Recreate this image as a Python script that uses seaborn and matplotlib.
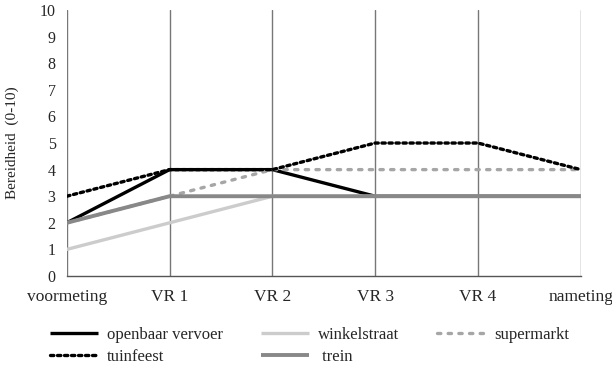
import matplotlib
matplotlib.use("Agg")
import matplotlib.pyplot as plt
import seaborn as sns
import pandas as pd

categories = ["voormeting", "VR 1", "VR 2", "VR 3", "VR 4", "nameting"]
openbaar_vervoer = [2, 4, 4, 3, 3, 3]
winkelstraat = [1, 2, 3, 3, 3, 3]
supermarkt = [2, 3, 4, 4, 4, 4]
tuinfeest = [3, 4, 4, 5, 5, 4]
trein = [2, 3, 3, 3, 3, 3]
y_ticks = list(range(0, 11))

sns.set_theme(style="white")
plt.rcParams["font.family"] = ["Liberation Serif", "DejaVu Serif"]

fig = plt.figure(figsize=(6.12, 3.72), dpi=100)
ax = fig.add_axes([0.109, 0.258, 0.84, 0.715])

series = [
    ("openbaar vervoer", openbaar_vervoer, "#000000", "-", 2.4),
    ("winkelstraat", winkelstraat, "#cccccc", "-", 2.4),
    ("supermarkt", supermarkt, "#a6a6a6", (0, (1, 2.2)), 2.4),
    ("tuinfeest", tuinfeest, "#000000", (0, (1, 1.1)), 2.4),
    (" trein", trein, "#888888", "-", 2.8),
]

x = list(range(len(categories)))
handles = {}
for name, vals, col, ls, lw in series:
    df = pd.DataFrame({"x": x, "y": vals})
    sns.lineplot(data=df, x="x", y="y", ax=ax, color=col, linewidth=lw, label=name)
    line = ax.get_lines()[-1]
    line.set_linestyle(ls)
    line.set_dash_capstyle("round")
    line.set_solid_capstyle("butt")
    handles[name] = line

ax.set_xlim(0, 5)
ax.set_ylim(0, 10)
ax.set_xticks(x)
ax.set_xticklabels(categories, fontsize=12.5)
ax.set_yticks(y_ticks)
ax.set_yticklabels([str(t) for t in y_ticks], fontsize=11.5)
ax.tick_params(axis="both", length=0)
ax.tick_params(axis="x", pad=9)
ax.tick_params(axis="y", pad=8)
ax.set_xlabel("")
ax.set_ylabel("Bereidheid  (0-10)", fontsize=11, labelpad=15)

for xi in x:
    ax.axvline(xi, color="#777777", linewidth=1.0, zorder=0)

for s in ["top", "right", "left"]:
    ax.spines[s].set_visible(False)
ax.spines["bottom"].set_color("#555555")
ax.spines["bottom"].set_linewidth(1.0)

order = ["openbaar vervoer", "tuinfeest", "winkelstraat", " trein", "supermarkt"]
ax.legend([handles[n] for n in order], order, loc="upper left",
          bbox_to_anchor=(50 / 612, 1 - 327 / 372), bbox_transform=fig.transFigure,
          ncol=3, frameon=False, borderpad=0, borderaxespad=0,
          prop={"family": "Liberation Serif", "size": 12},
          handlelength=2.9, columnspacing=2.3, handletextpad=0.5,
          labelspacing=0.35)

fig.savefig("out.png", dpi=100)
